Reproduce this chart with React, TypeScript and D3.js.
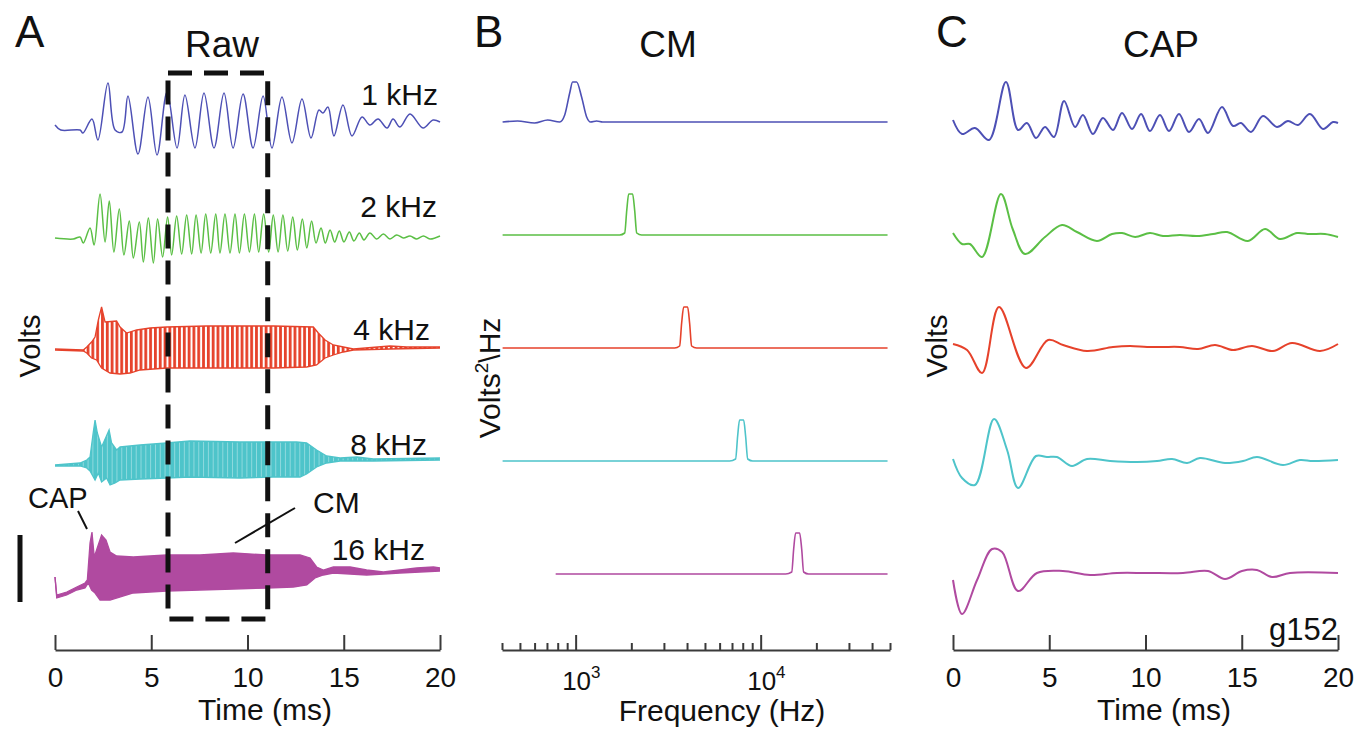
import React, { useEffect, useRef } from "react";
import * as d3 from "d3";

const width = 1365;
const height = 731;

const sans = "'Liberation Sans', Arial, Helvetica, sans-serif";
const narrow = "'Liberation Sans Narrow', 'Liberation Sans', Arial, sans-serif";

// stimulus rows
const stimLabels = ["1 kHz", "2 kHz", "4 kHz", "8 kHz", "16 kHz"];
const colors = ["#4d50b5", "#5bbf45", "#e6422b", "#4ec4ca", "#b04aa0"];
const timeTicks = [0, 5, 10, 15, 20];
const cmWindow = [5.87, 11.05]; // ms, dashed box

// raw recordings (ms, a.u.) - 1 and 2 kHz as peak/trough points
const raw1k = [[0,3],[0.3,-2],[1.3,-2],[1.45,-5],[1.92,9],[2.23,-12],[2.75,45],[3.12,-2],[3.48,-4],[3.79,32],[4.31,-26],[4.83,31],[5.3,-27],[5.82,36],[6.34,-20],[6.75,33],[7.27,-20],[7.74,35],[8.26,-20],[8.78,35],[9.25,-20],[9.77,34],[10.29,-20],[10.81,32],[11.27,-20],[11.79,31],[12.31,-15],[12.83,29],[13.3,-10],[13.71,18],[13.92,15],[14.18,21],[14.49,-8],[14.96,23],[15.43,-8],[15.95,11],[16.36,3],[16.78,9],[17.25,0],[17.56,9],[17.92,1],[18.44,14],[19.12,0],[19.64,8],[20,6]];
const raw2k = [[0,0],[0.95,-1],[1.3,1],[1.47,-5],[1.82,10],[2.03,-7],[2.34,44],[2.6,-4],[2.82,37],[3.06,-14],[3.34,29],[3.58,-17],[3.86,17],[4.07,-20],[4.38,16],[4.59,-24],[4.85,20],[5.11,-25],[5.33,19],[5.59,-19],[5.85,21],[6.06,-17],[6.32,22],[6.58,-16],[6.84,23],[7.1,-16],[7.33,23],[7.59,-15],[7.83,24],[8.09,-15],[8.35,24],[8.57,-15],[8.83,24],[9.09,-15],[9.35,24],[9.58,-15],[9.84,24],[10.1,-14],[10.36,24],[10.58,-14],[10.84,24],[11.1,-14],[11.34,23],[11.59,-14],[11.84,23],[12.09,-13],[12.35,21],[12.59,-12],[12.85,19],[13.08,-10],[13.33,17],[13.56,-5],[13.82,10],[14.04,-5],[14.29,8],[14.53,-4],[14.77,7],[15.01,-4],[15.29,6],[15.53,-3],[15.81,5],[16.05,-2],[16.36,5],[16.71,-1],[17.06,4],[17.4,-1],[17.75,3],[18.1,0],[18.44,2],[18.79,-1],[19.14,2],[19.48,-1],[20,2]];

// 4, 8, 16 kHz: too dense to resolve, kept as upper / lower envelopes
const raw4kUpper = [[0,0],[1.47,-1],[1.65,2],[1.9,7],[2.08,12],[2.25,29],[2.42,42],[2.6,27],[3.2,28],[3.38,22],[3.72,16],[4.24,19],[4.94,21],[5.8,22],[7.88,23],[11.34,23],[13.42,22],[13.68,16],[14.03,9],[14.46,4],[14.98,2],[15.5,0],[17.4,3],[18.27,2],[20,2]];
const raw4kLower = [[0,-1],[1.47,-2],[1.65,-4],[1.9,-9],[2.16,-11],[2.42,-19],[2.86,-24],[3.38,-25],[3.9,-24],[4.42,-21],[5.8,-19],[7.88,-19],[11.34,-19],[13.07,-18],[13.59,-16],[14.03,-9],[14.46,-6],[14.98,-3],[15.5,-1],[17.4,0],[20,1]];
const raw8kUpper = [[0,-3],[1.3,-1],[1.65,2],[1.82,5],[1.99,30],[2.08,42],[2.2,29],[2.42,15],[2.65,25],[2.81,32],[2.94,19],[3.2,12],[3.38,15],[4.42,17],[5.8,19],[7.01,21],[9.61,20],[11.34,20],[12.55,20],[13.07,19],[13.59,12],[14.11,6],[14.81,4],[15.67,5],[16.54,3],[20,4]];
const raw8kLower = [[0,-4],[1.3,-4],[1.65,-6],[1.82,-9],[2.08,-18],[2.25,-11],[2.42,-20],[2.68,-16],[2.86,-23],[3.12,-21],[3.38,-18],[4.42,-17],[5.8,-16],[7.01,-15],[9.61,-16],[11.34,-15],[12.73,-15],[13.07,-12],[13.59,-5],[14.11,-1],[14.81,1],[15.67,1],[16.54,1],[20,2]];
const raw16kUpper = [[0,-2],[0.09,-20],[0.61,-17],[1.13,-12],[1.56,-8],[1.68,-5],[1.82,32],[1.92,43],[2.04,18],[2.16,25],[2.42,40],[2.65,35],[2.86,23],[3.2,19],[4.07,18],[5.8,20],[7.53,20],[9.26,22],[11.0,20],[12.73,20],[13.25,17],[13.59,8],[13.94,5],[14.46,8],[15.33,8],[16.19,5],[17.06,3],[17.92,5],[18.79,7],[19.66,8],[20,7]];
const raw16kLower = [[0,-2],[0.09,-23],[0.61,-20],[1.13,-15],[1.56,-13],[1.73,-8],[1.9,-15],[2.08,-18],[2.34,-25],[2.86,-25],[4.07,-18],[5.8,-16],[7.53,-15],[9.26,-14],[11.0,-13],[12.38,-12],[13.08,-10],[13.51,-3],[13.94,0],[14.46,2],[16.19,0],[17.92,2],[20,4]];

// CM spectra (Hz, a.u.)
const cm1k = [[403,0],[485,1],[600,-1],[706,2],[820,0],[873,7],[929,29],[963,40],[1012,40],[1077,25],[1147,5],[1205,0],[1299,1],[1400,0],[1667,0],[48500,0]];
const cm2k = [[403,0],[1729,0],[1841,2],[1890,25],[1935,41],[2032,41],[2084,25],[2139,2],[2274,0],[48500,0]];
const cm4k = [[403,0],[3428,0],[3648,2],[3741,25],[3837,41],[4030,41],[4130,25],[4236,2],[4508,0],[48500,0]];
const cm8k = [[403,0],[6800,0],[7320,2],[7510,25],[7690,41],[8090,41],[8290,25],[8510,2],[9060,0],[48500,0]];
const cm16k = [[780,0],[13650,0],[14720,2],[15080,25],[15450,41],[16240,41],[16660,25],[17070,2],[18170,0],[48500,0]];

// CAP (ms, a.u.)
const cap1k = [[0,2],[0.47,-12],[1.14,-6],[1.87,-18],[2.75,40],[3.38,-8],[3.84,-1],[4.31,-16],[4.78,-5],[5.25,-15],[5.77,21],[6.34,-5],[6.75,7],[7.27,-12],[7.79,4],[8.31,-8],[8.78,9],[9.3,-7],[9.77,8],[10.23,-9],[10.75,7],[11.22,-9],[11.74,8],[12.26,-10],[12.78,3],[13.25,-11],[13.97,15],[14.55,-4],[14.96,-1],[15.48,-10],[16.1,6],[16.83,-5],[17.4,1],[17.92,-3],[18.54,8],[19.22,-7],[19.74,0],[20,-1]];
const cap2k = [[0,4],[0.47,-7],[0.88,-7],[1.51,-20],[2.49,43],[3.1,8],[3.74,-17],[4.78,0],[5.66,12],[6.44,5],[7.48,-4],[8.26,3],[8.78,4],[9.46,0],[10.23,4],[10.91,1],[11.79,2],[12.68,1],[13.51,3],[14.24,5],[15.32,-4],[16.21,8],[16.99,-2],[17.87,4],[18.54,3],[19.32,3],[20,0]];
const cap4k = [[0,4],[0.73,-2],[1.51,-25],[2.39,41],[3.79,-20],[4.94,8],[5.72,3],[6.96,-3],[8.31,1],[9.2,2],[10.08,1],[10.91,1],[11.79,1],[12.73,-1],[13.61,3],[14.55,-2],[15.53,2],[16.62,-3],[17.61,5],[19.07,-3],[20,4]];
const cap8k = [[0,2],[0.47,-17],[1.14,-24],[2.13,42],[2.81,11],[3.38,-27],[4.31,5],[4.88,4],[5.4,4],[6.18,-5],[6.96,2],[8.16,0],[9.56,-1],[10.6,0],[11.38,2],[12.16,-2],[12.83,3],[14.13,-2],[15.07,0],[15.79,4],[17.14,-4],[18.02,1],[18.7,0],[20,1]];
const cap16k = [[0,-6],[0.47,-40],[1.25,-6],[2.03,25],[2.55,22],[3.38,-17],[4.36,1],[5.71,3],[7.12,-1],[8.52,1],[10.08,1],[11.95,1],[13.25,3],[14.13,-5],[15.01,3],[15.79,4],[16.57,-3],[17.51,1],[20,1]];

const cmSpectra = [cm1k, cm2k, cm4k, cm8k, cm16k];
const capTraces = [cap1k, cap2k, cap4k, cap8k, cap16k];

// scales
const xRaw = d3.scaleLinear().domain([0, 20]).range([55, 440]);
const xFreq = d3.scaleLog().domain([400, 50000]).range([502, 890]);
const xCap = d3.scaleLinear().domain([0, 20]).range([953, 1338]);
const axisY = 650;

const baseA = [128, 238, 349, 462, 575];
const baseB = [122, 235, 348, 461, 574];
const baseC = [122, 237, 348, 461, 574];
const rowScale = (base) => d3.scaleLinear().domain([-60, 60]).range([base + 60, base - 60]);

const labelPos = [[438, 105], [437, 217], [430, 340], [427, 455], [425, 560]];

export default function App() {
  const axisA = useRef(null);
  const axisB = useRef(null);
  const axisC = useRef(null);

  useEffect(() => {
    const styleAxis = (g) => {
      g.select(".domain").attr("stroke", "#3a3a3a").attr("stroke-width", 2);
      g.selectAll(".tick line").attr("stroke", "#3a3a3a").attr("stroke-width", 2);
      g.selectAll(".tick text").attr("fill", "#111").style("font-family", narrow).style("font-size", "28px");
    };
    const timeAxis = (x) => d3.axisBottom(x).tickValues(timeTicks).tickSizeInner(-15).tickSizeOuter(0).tickPadding(17);

    const a = d3.select(axisA.current);
    a.call(timeAxis(xRaw));
    styleAxis(a);
    const c = d3.select(axisC.current);
    c.call(timeAxis(xCap));
    styleAxis(c);

    // log axis: minor ticks short, decades long with 10^n labels
    const b = d3.select(axisB.current);
    b.call(d3.axisBottom(xFreq).tickValues(xFreq.ticks()).tickSizeInner(-7).tickSizeOuter(0).tickFormat(() => ""));
    styleAxis(b);
    const isDecade = (d) => Math.abs(Math.log10(d) - Math.round(Math.log10(d))) < 1e-6;
    const majors = b.selectAll(".tick").filter(isDecade);
    majors.select("line").attr("y2", -15);
    majors.selectAll(".dec").remove();
    const lab = majors.append("text").attr("class", "dec").attr("x", -14).attr("y", 40)
      .attr("fill", "#111").attr("text-anchor", "start")
      .style("font-family", narrow).style("font-size", "26px");
    lab.append("tspan").text("10");
    lab.append("tspan").attr("dy", -12).style("font-size", "17px").text((d) => String(Math.round(Math.log10(d))));
  }, []);

  const rawLine = (y) => d3.line().x((d) => xRaw(d[0])).y((d) => y(d[1])).curve(d3.curveCatmullRom);
  const edgeLine = (y) => d3.line().x((d) => xRaw(d[0])).y((d) => y(d[1]));
  const envPath = (upper, lower, y) => {
    const pts = [...upper, ...lower.slice().reverse()].map((d) => [xRaw(d[0]), y(d[1])]);
    return d3.line().curve(d3.curveLinearClosed)(pts);
  };
  const envelopes = [
    { upper: raw4kUpper, lower: raw4kLower, row: 2, fill: "url(#stripes4k)" },
    { upper: raw8kUpper, lower: raw8kLower, row: 3, fill: "url(#stripes8k)" },
    { upper: raw16kUpper, lower: raw16kLower, row: 4, fill: colors[4] },
  ];
  const period4k = xRaw(0.25) - xRaw(0);

  return (
    <svg width={width} height={height} style={{ position: "absolute", left: 0, top: 0, background: "#fff" }}>
      <defs>
        <pattern id="stripes4k" patternUnits="userSpaceOnUse" width={period4k} height={10}>
          <rect width={period4k * 0.58} height={10} fill={colors[2]} />
        </pattern>
        <pattern id="stripes8k" patternUnits="userSpaceOnUse" width={period4k} height={10}>
          <rect width={period4k} height={10} fill={colors[3]} />
          <rect x={period4k * 0.2} width={0.7} height={10} fill="#a9e3e6" />
        </pattern>
      </defs>

      {/* panel letters and titles */}
      <g style={{ fontFamily: sans }} fill="#111">
        <text x={15} y={47} fontSize={44}>A</text>
        <text x={474} y={47} fontSize={44}>B</text>
        <text x={936} y={47} fontSize={44}>C</text>
        <text x={222} y={57} fontSize={37} textAnchor="middle">Raw</text>
        <text x={668} y={57} fontSize={37} textAnchor="middle">CM</text>
        <text x={1161} y={57} fontSize={37} textAnchor="middle">CAP</text>
      </g>

      {/* A: raw traces */}
      <path d={rawLine(rowScale(baseA[0]))(raw1k)} fill="none" stroke={colors[0]} strokeWidth={1.5} />
      <path d={rawLine(rowScale(baseA[1]))(raw2k)} fill="none" stroke={colors[1]} strokeWidth={1.5} />
      {envelopes.map((e, i) => {
        const y = rowScale(baseA[e.row]);
        const col = colors[e.row];
        return (
          <g key={i}>
            <path d={envPath(e.upper, e.lower, y)} fill={e.fill} stroke="none" />
            <path d={edgeLine(y)(e.upper)} fill="none" stroke={col} strokeWidth={1.3} />
            <path d={edgeLine(y)(e.lower)} fill="none" stroke={col} strokeWidth={1.3} />
          </g>
        );
      })}
      {stimLabels.map((s, i) => (
        <text key={s} x={labelPos[i][0]} y={labelPos[i][1]} fontSize={30} textAnchor="end" fill="#111" style={{ fontFamily: sans }}>{s}</text>
      ))}

      {/* CM window */}
      <rect x={xRaw(cmWindow[0])} y={73} width={xRaw(cmWindow[1]) - xRaw(cmWindow[0])} height={546}
        fill="none" stroke="#111" strokeWidth={5} strokeDasharray="24 12" />

      {/* annotations */}
      <g style={{ fontFamily: sans }} fill="#111">
        <text x={28} y={508} fontSize={29}>CAP</text>
        <text x={313} y={513} fontSize={30}>CM</text>
      </g>
      <line x1={78} y1={511} x2={87} y2={529} stroke="#111" strokeWidth={2} />
      <line x1={295} y1={508} x2={235} y2={543} stroke="#111" strokeWidth={2} />
      <line x1={20} y1={535} x2={20} y2={602} stroke="#111" strokeWidth={5} />
      <text transform="translate(40,346) rotate(-90)" textAnchor="middle" fontSize={29} fill="#111" style={{ fontFamily: sans }}>Volts</text>

      {/* B: spectra */}
      {cmSpectra.map((s, i) => {
        const y = rowScale(baseB[i]);
        const line = d3.line().x((d) => xFreq(d[0])).y((d) => y(d[1])).curve(d3.curveMonotoneX);
        return <path key={i} d={line(s)} fill="none" stroke={colors[i]} strokeWidth={1.6} />;
      })}
      <text transform="translate(500,378) rotate(-90)" textAnchor="middle" fontSize={30} fill="#111" style={{ fontFamily: sans }}>
        Volts<tspan dy={-12} fontSize={19}>2</tspan><tspan dy={12}>\Hz</tspan>
      </text>

      {/* C: CAP */}
      {capTraces.map((s, i) => {
        const y = rowScale(baseC[i]);
        const line = d3.line().x((d) => xCap(d[0])).y((d) => y(d[1])).curve(d3.curveCatmullRom);
        return <path key={i} d={line(s)} fill="none" stroke={colors[i]} strokeWidth={2} />;
      })}
      <text transform="translate(947,346) rotate(-90)" textAnchor="middle" fontSize={29} fill="#111" style={{ fontFamily: sans }}>Volts</text>
      <text x={1338} y={640} fontSize={31} textAnchor="end" fill="#111" style={{ fontFamily: sans }}>g152</text>

      {/* axes */}
      <g ref={axisA} transform={`translate(0,${axisY})`} />
      <g ref={axisB} transform={`translate(0,${axisY})`} />
      <g ref={axisC} transform={`translate(0,${axisY})`} />
      <g style={{ fontFamily: sans }} fill="#111" fontSize={30} textAnchor="middle">
        <text x={265} y={720}>Time (ms)</text>
        <text x={722} y={721}>Frequency (Hz)</text>
        <text x={1164} y={720}>Time (ms)</text>
      </g>
    </svg>
  );
}
